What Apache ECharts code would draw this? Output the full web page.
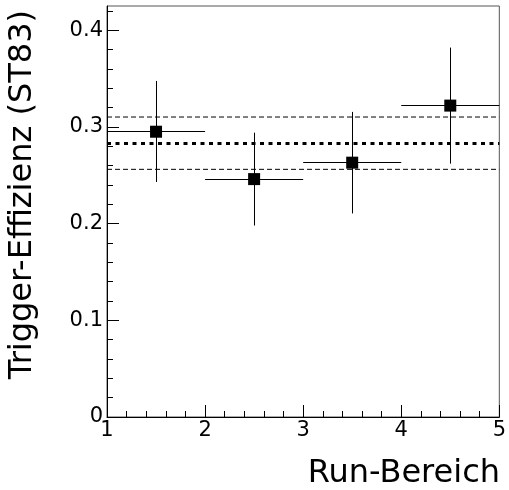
<!DOCTYPE html>
<html>
<head>
<meta charset="utf-8">
<script src="https://cdn.jsdelivr.net/npm/echarts@6/dist/echarts.min.js"></script>
<style>
html,body{margin:0;padding:0;background:#fff;}
#chart{width:509px;height:490px;}
</style>
</head>
<body>
<div id="chart"></div>
<script>
// Data
var runCenters = [1.5, 2.5, 3.5, 4.5];
var runHalfWidth = [0.5, 0.5, 0.5, 0.5];
var efficiency = [0.295, 0.246, 0.263, 0.322];
var errUp = [0.0525, 0.048, 0.0525, 0.060];
var errDown = [0.052, 0.048, 0.0525, 0.060];
var meanEff = 0.2827;
var meanUpper = 0.3102;
var meanLower = 0.2561;
var xTickLabels = [1, 2, 3, 4, 5];
var yTickLabels = [0, 0.1, 0.2, 0.3, 0.4];
var yMinorTicks = [0.02,0.04,0.06,0.08,0.12,0.14,0.16,0.18,0.22,0.24,0.26,0.28,0.32,0.34,0.36,0.38,0.42];
var xRange = [1, 5];
var yRange = [0, 0.425];

var FONT = 'DejaVu Sans';
var chart = echarts.init(document.getElementById('chart'), null, {renderer: 'canvas'});

var errData = runCenters.map(function (x, i) {
  return [x, efficiency[i], x - runHalfWidth[i], x + runHalfWidth[i], efficiency[i] - errDown[i], efficiency[i] + errUp[i]];
});
var pts = runCenters.map(function (x, i) { return [x, efficiency[i]]; });

function hline(v, type, width) {
  return {
    type: 'line', xAxisIndex: 0, yAxisIndex: 0,
    data: [[xRange[0], v], [xRange[1], v]],
    symbol: 'none', silent: true, animation: false,
    lineStyle: {color: '#000', width: width, type: type}
  };
}
function snap(v) { return Math.round(v - 0.5) + 0.5; }

var option = {
  animation: false,
  backgroundColor: '#fff',
  grid: {left: 107, right: 8, top: 6, bottom: 73, show: true, borderColor: '#555', borderWidth: 1, backgroundColor: 'transparent'},
  xAxis: {
    type: 'value', min: xRange[0], max: xRange[1], interval: 1,
    axisLine: {show: true, onZero: false, lineStyle: {color: '#000', width: 1}},
    axisTick: {show: true, inside: true, length: 12, lineStyle: {color: '#000'}},
    minorTick: {show: true, splitNumber: 5, length: 6, lineStyle: {color: '#000'}},
    splitLine: {show: false},
    axisLabel: {
      margin: 3, color: '#000', fontFamily: FONT, fontSize: 21,
      customValues: xTickLabels,
      formatter: function (v) { return String(v); }
    }
  },
  yAxis: [{
    type: 'value', min: yRange[0], max: yRange[1],
    axisLine: {show: true, onZero: false, lineStyle: {color: '#000', width: 1}},
    axisTick: {show: true, inside: true, length: 12, customValues: yTickLabels, lineStyle: {color: '#000'}},
    splitLine: {show: false},
    axisLabel: {
      margin: 4, color: '#000', fontFamily: FONT, fontSize: 21,
      customValues: yTickLabels,
      formatter: function (v) { return v === 0 ? '0' : v.toFixed(1); }
    }
  }, {
    type: 'value', min: yRange[0], max: yRange[1], position: 'left',
    axisLine: {show: false},
    axisTick: {show: true, inside: true, length: 6, customValues: yMinorTicks, lineStyle: {color: '#000'}},
    axisLabel: {show: false},
    splitLine: {show: false}
  }],
  graphic: [{
    type: 'text', x: 500, y: 474,
    style: {text: 'Run-Bereich', fill: '#000', font: '32px "' + FONT + '"', align: 'right', verticalAlign: 'middle'}
  }, {
    type: 'text', x: 23, y: 10, rotation: Math.PI / 2,
    style: {text: 'Trigger-Effizienz (ST83)', fill: '#000', font: '32px "' + FONT + '"', align: 'right', verticalAlign: 'middle'}
  }],
  series: [
    hline(meanUpper, [5, 3], 1),
    hline(meanLower, [5, 3], 1),
    hline(meanEff, [4, 4.5], 3),
    {
      type: 'custom', xAxisIndex: 0, yAxisIndex: 0, data: errData, silent: true,
      renderItem: function (params, api) {
        var c = api.coord([api.value(0), api.value(1)]);
        var l = api.coord([api.value(2), api.value(1)]);
        var r = api.coord([api.value(3), api.value(1)]);
        var lo = api.coord([api.value(0), api.value(4)]);
        var hi = api.coord([api.value(0), api.value(5)]);
        var st = {stroke: '#000', lineWidth: 1};
        var cy = snap(c[1]), cx = snap(c[0]);
        return {
          type: 'group', children: [
            {type: 'line', shape: {x1: l[0], y1: cy, x2: r[0], y2: cy}, style: st},
            {type: 'line', shape: {x1: cx, y1: lo[1], x2: cx, y2: hi[1]}, style: st}
          ]
        };
      }
    },
    {
      type: 'scatter', xAxisIndex: 0, yAxisIndex: 0, data: pts,
      symbol: 'rect', symbolSize: 12, itemStyle: {color: '#000', opacity: 1}, silent: true
    }
  ]
};
chart.setOption(option);
</script>
</body>
</html>
